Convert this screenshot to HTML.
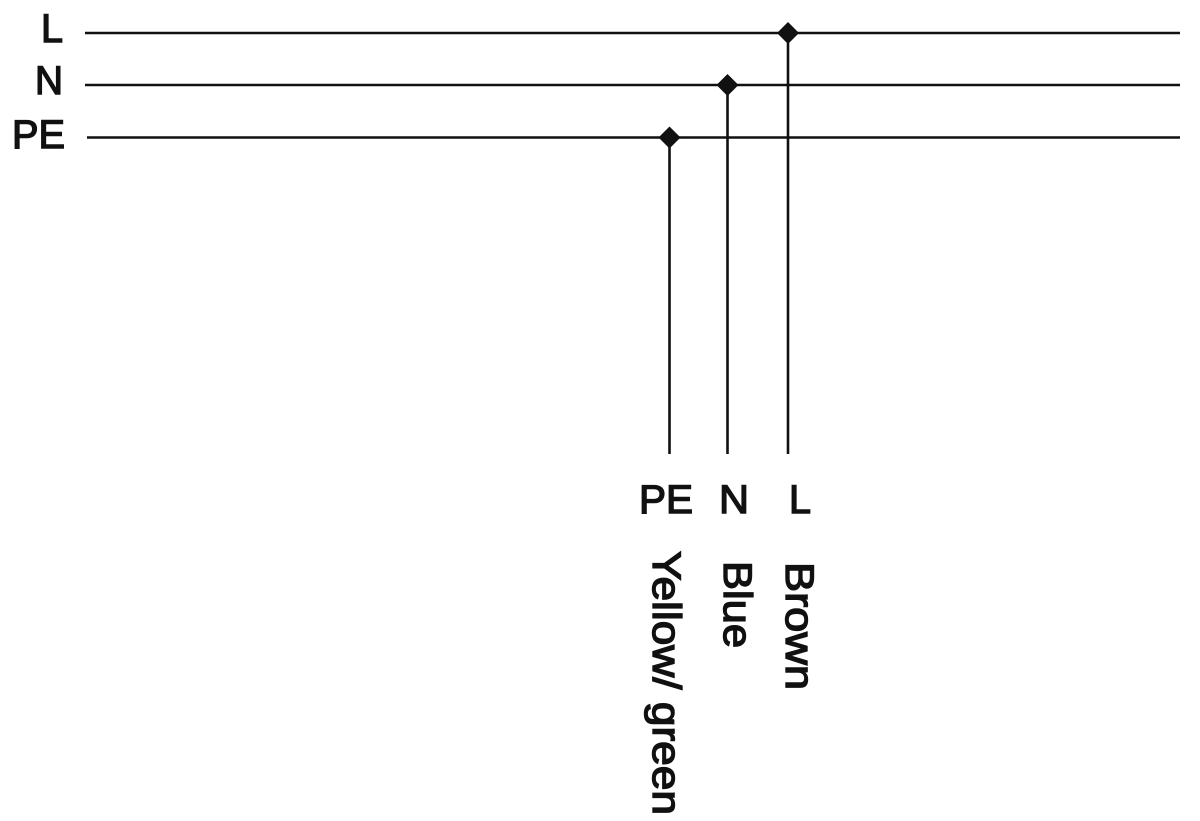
<!DOCTYPE html>
<html><head><meta charset="utf-8"><style>
html,body{margin:0;padding:0;background:#fff;}
svg{display:block;}
text{font-family:"Liberation Sans",Arial,sans-serif;font-size:40px;fill:#111;stroke:#111;stroke-width:1.4px;}
</style></head><body>
<svg width="1200" height="821" viewBox="0 0 1200 821" xmlns="http://www.w3.org/2000/svg">
<g stroke="#111" stroke-width="2.6" fill="none">
<line x1="85" y1="33" x2="1180" y2="33"/>
<line x1="85" y1="85" x2="1180" y2="85"/>
<line x1="87" y1="137.5" x2="1180" y2="137.5"/>
<line x1="669.5" y1="137" x2="669.5" y2="454"/>
<line x1="727.5" y1="85" x2="727.5" y2="454"/>
<line x1="788" y1="33" x2="788" y2="454"/>
</g>
<g fill="#111">
<polygon points="788,22 799,33 788,44 777,33"/>
<polygon points="727.5,74 738.5,85 727.5,96 716.5,85"/>
<polygon points="669.5,126.5 680.5,137.5 669.5,148.5 658.5,137.5"/>
</g>
<text x="41" y="42" textLength="22" lengthAdjust="spacingAndGlyphs">L</text>
<text x="35" y="94" textLength="28" lengthAdjust="spacingAndGlyphs">N</text>
<text x="12" y="148" textLength="53" lengthAdjust="spacingAndGlyphs">PE</text>
<text x="639" y="513" textLength="54" lengthAdjust="spacingAndGlyphs">PE</text>
<text x="719" y="513" textLength="30" lengthAdjust="spacingAndGlyphs">N</text>
<text x="789" y="513" textLength="22" lengthAdjust="spacingAndGlyphs">L</text>
<text transform="translate(653,551) rotate(90)" textLength="264" lengthAdjust="spacingAndGlyphs">Yellow/ green</text>
<text transform="translate(724,561) rotate(90)" textLength="87" lengthAdjust="spacingAndGlyphs">Blue</text>
<text transform="translate(786,562) rotate(90)" textLength="128" lengthAdjust="spacingAndGlyphs">Brown</text>
</svg>
</body></html>
